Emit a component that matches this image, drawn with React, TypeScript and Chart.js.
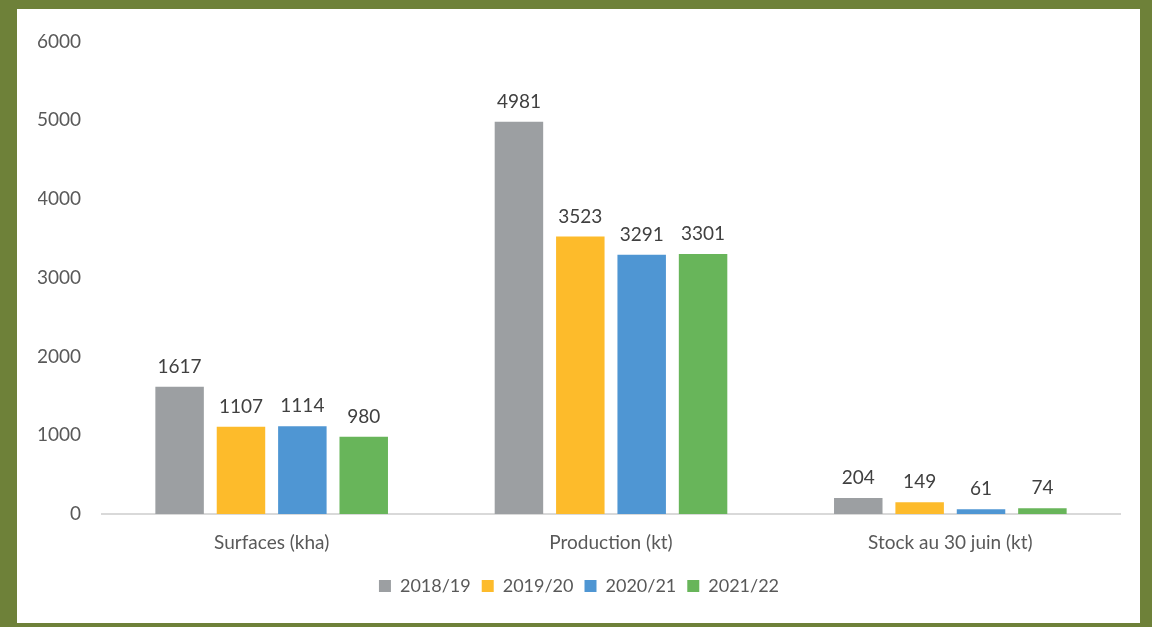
import React, { useEffect, useRef } from "react";
import { Chart, registerables } from "chart.js";

Chart.register(...registerables);

const categories = ["Surfaces (kha)", "Production (kt)", "Stock au 30 juin (kt)"];
const seriesNames = ["2018/19", "2019/20", "2020/21", "2021/22"];
const values2018 = [1617, 4981, 204];
const values2019 = [1107, 3523, 149];
const values2020 = [1114, 3291, 61];
const values2021 = [980, 3301, 74];
const seriesColors = ["#9c9fa2", "#fdbb2b", "#4f96d3", "#68b55a"];
const yTicks = [0, 1000, 2000, 3000, 4000, 5000, 6000];

const FONT = "Lato";
const TEXT = "#595959";

const dataLabels = {
  id: "dataLabels",
  afterDatasetsDraw(chart: any) {
    const ctx = chart.ctx;
    ctx.save();
    ctx.font = `19px ${FONT}`;
    ctx.fillStyle = "#404040";
    ctx.textAlign = "center";
    ctx.textBaseline = "alphabetic";
    chart.data.datasets.forEach((ds: any, i: number) => {
      const meta = chart.getDatasetMeta(i);
      meta.data.forEach((bar: any, j: number) => {
        ctx.fillText(String(ds.data[j]), bar.x, bar.y - 14);
      });
    });
    ctx.restore();
  },
};

export default function App() {
  const ref = useRef<HTMLCanvasElement>(null);
  useEffect(() => {
    const all = [values2018, values2019, values2020, values2021];
    const chart = new Chart(ref.current!, {
      type: "bar",
      data: {
        labels: categories,
        datasets: all.map((d, i) => ({
          label: seriesNames[i],
          data: d,
          backgroundColor: seriesColors[i],
          categoryPercentage: 0.7235,
          barPercentage: 0.79,
        })),
      },
      options: {
        responsive: false,
        animation: false,
        maintainAspectRatio: false,
        layout: { padding: { left: 21, right: 20, top: 32, bottom: 18 } },
        plugins: {
          legend: {
            position: "bottom",
            labels: {
              boxWidth: 12,
              boxHeight: 12,
              padding: 11,
              color: TEXT,
              font: { family: FONT, size: 18 },
            },
          },
          tooltip: { enabled: false },
        },
        scales: {
          x: {
            grid: { display: false, drawTicks: false },
            border: { display: true, color: "#d9d9d9", width: 2 },
            ticks: { color: TEXT, font: { family: FONT, size: 19 }, padding: 17 },
            afterFit: (s: any) => {
              s.height = 52;
            },
          },
          y: {
            min: 0,
            max: 6000,
            grid: { display: false, drawTicks: false },
            border: { display: false },
            afterBuildTicks: (s: any) => {
              s.ticks = yTicks.map((v) => ({ value: v }));
            },
            ticks: {
              color: TEXT,
              font: { family: FONT, size: 19 },
              padding: 21,
              callback: (v: any) => String(v),
            },
            afterFit: (s: any) => {
              s.width = 64;
            },
          },
        },
      },
      plugins: [dataLabels],
    });
    return () => chart.destroy();
  }, []);

  return (
    <div
      style={{
        position: "fixed",
        left: 0,
        top: 0,
        width: 1152,
        height: 627,
        boxSizing: "border-box",
        borderStyle: "solid",
        borderColor: "#6e8139",
        borderLeftWidth: 17,
        borderTopWidth: 9,
        borderRightWidth: 12,
        borderBottomWidth: 4,
        background: "#ffffff",
      }}
    >
      <canvas ref={ref} width={1123} height={614} style={{ display: "block" }} />
    </div>
  );
}
